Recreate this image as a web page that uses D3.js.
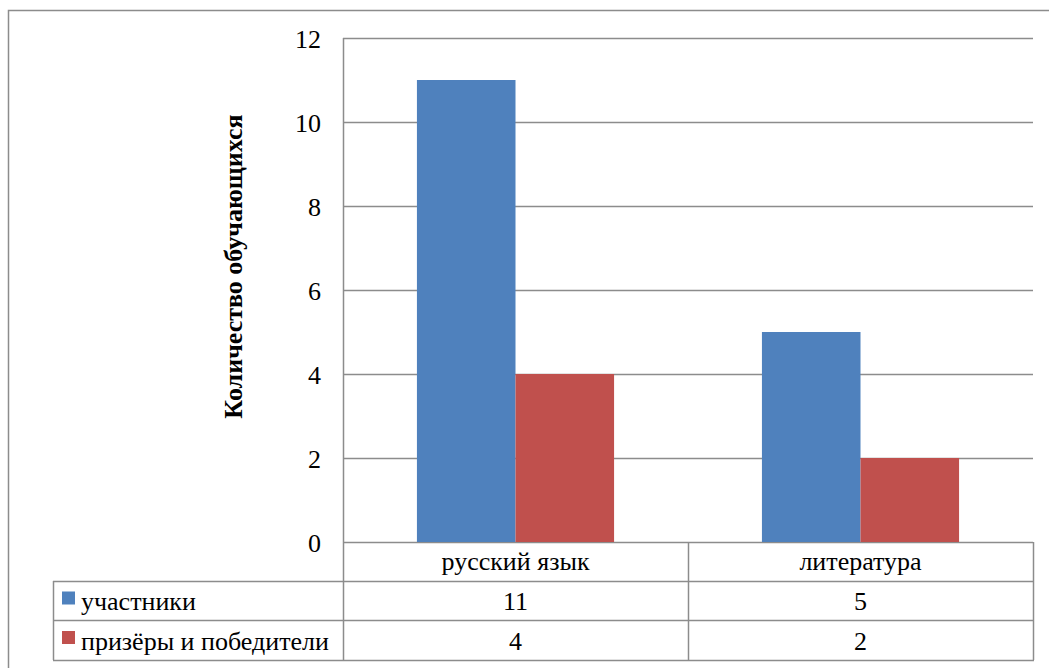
<!DOCTYPE html>
<html><head><meta charset="utf-8">
<script src="https://cdn.jsdelivr.net/npm/d3@7"></script>
</head><body style="margin:0;background:#fff"><svg id="c" width="1049" height="668" style="display:block"></svg>
<script>
const categories = ["русский язык", "литература"];
const seriesNames = ["участники", "призёры и победители"];
const participants = [11, 5];
const winners = [4, 2];
const yTicks = [0, 2, 4, 6, 8, 10, 12];
const colors = ["#4F81BD", "#C0504D"];
const yTitle = "Количество обучающихся";

const FONT = "Liberation Serif";
const FS = 26;
const series = [participants, winners];
const svg = d3.select("#c");
const L = 343, R = 1033, T = 38, B = 542;
const grid = "#8c8c8c";

function fontify(sel, size, weight) {
  sel.attr("font-family", FONT).attr("font-size", size)
    .each(function () {
      this.style.setProperty("font-family", FONT, "important");
      this.style.setProperty("font-size", size + "px", "important");
      if (weight) this.style.setProperty("font-weight", weight, "important");
    });
  return sel;
}

svg.append("path").attr("d", "M8.5,680 V10.5 H1060").attr("fill", "none").attr("stroke", grid).attr("stroke-width", 1.5);

const x = d3.scaleBand().domain(categories).range([L, R]).paddingInner(0).paddingOuter(0);
const y = d3.scaleLinear().domain([0, 12]).range([B, T]);
const xs = d3.scaleBand().domain(d3.range(series.length)).range([0, x.bandwidth()]).paddingInner(0).paddingOuter(0.75);

svg.append("g").selectAll("line").data(yTicks).join("line")
  .attr("x1", L).attr("x2", R).attr("y1", d => y(d) + 0.5).attr("y2", d => y(d) + 0.5)
  .attr("stroke", grid).attr("stroke-width", 1.5);

series.forEach((vals, si) => {
  svg.append("g").selectAll("rect").data(vals).join("rect")
    .attr("x", (d, i) => x(categories[i]) + xs(si))
    .attr("width", xs.bandwidth())
    .attr("y", d => y(d)).attr("height", d => y(0) - y(d))
    .attr("fill", colors[si]);
});

const yAxis = d3.axisLeft(y).tickValues(yTicks).tickSize(0).tickPadding(22);
const ga = svg.append("g").attr("transform", `translate(${L},0)`).call(yAxis);
ga.attr("font-family", FONT).attr("font-size", FS);
ga.select(".domain").remove();
fontify(ga.selectAll("text"), FS).attr("fill", "#000").attr("dy", 9);

svg.append("line").attr("x1", L + 0.5).attr("x2", L + 0.5).attr("y1", T).attr("y2", 660).attr("stroke", grid).attr("stroke-width", 1.5);

fontify(svg.append("text").attr("transform", `translate(242,${(108 + 425) / 2}) rotate(-90)`)
  .attr("text-anchor", "middle").attr("font-weight", "bold").text(yTitle), FS, "bold");

const rowTops = [542, 581, 620, 660];
const tLeft = 53;
[1, 2, 3].forEach(k => {
  svg.append("line").attr("x1", tLeft).attr("x2", R + 1).attr("y1", rowTops[k] + 0.5).attr("y2", rowTops[k] + 0.5).attr("stroke", grid).attr("stroke-width", 1.5);
});
svg.append("line").attr("x1", tLeft + 0.5).attr("x2", tLeft + 0.5).attr("y1", rowTops[1]).attr("y2", rowTops[3]).attr("stroke", grid).attr("stroke-width", 1.5);
categories.forEach(c => {
  const xr = x(c) + x.bandwidth();
  svg.append("line").attr("x1", xr + 0.5).attr("x2", xr + 0.5).attr("y1", B).attr("y2", rowTops[3]).attr("stroke", grid).attr("stroke-width", 1.5);
});

fontify(svg.append("g").selectAll("text").data(categories).join("text")
  .attr("x", d => x(d) + x.bandwidth() / 2).attr("y", (rowTops[0] + rowTops[1]) / 2 + 8.5)
  .attr("text-anchor", "middle").text(d => d), FS);

series.forEach((vals, si) => {
  const cy = (rowTops[si + 1] + rowTops[si + 2]) / 2;
  svg.append("rect").attr("x", 62).attr("y", cy - 9).attr("width", 13).attr("height", 13).attr("fill", colors[si]);
  fontify(svg.append("text").attr("x", 81).attr("y", cy + 9.5).text(seriesNames[si]), FS);
  fontify(svg.append("g").selectAll("text").data(vals).join("text")
    .attr("x", (d, i) => x(categories[i]) + x.bandwidth() / 2).attr("y", cy + 9.5)
    .attr("text-anchor", "middle").text(d => d), FS);
});
</script></body></html>
